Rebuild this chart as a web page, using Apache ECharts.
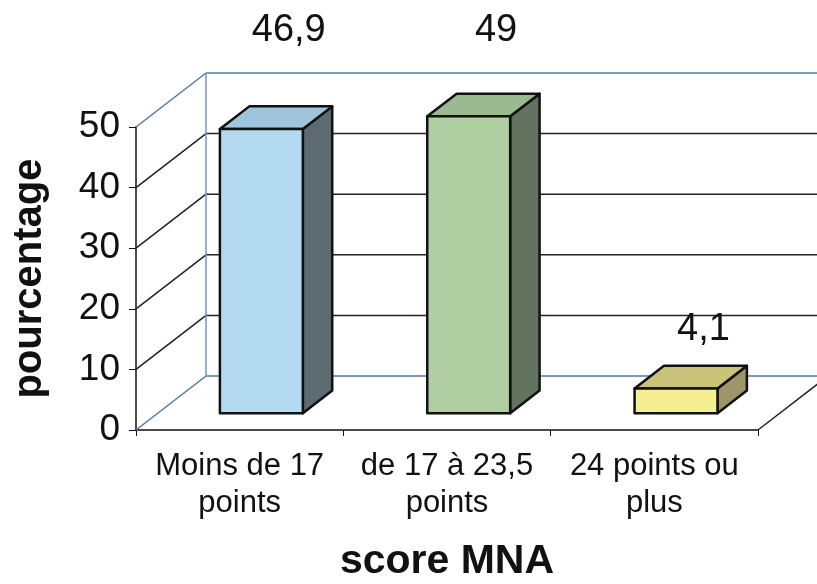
<!DOCTYPE html>
<html>
<head>
<meta charset="utf-8">
<script src="https://cdn.jsdelivr.net/npm/echarts@6/dist/echarts.min.js"></script>
<style>
  html, body { margin: 0; padding: 0; background: #fff; }
  #chart { width: 817px; height: 584px; }
</style>
</head>
<body>
<div id="chart"></div>
<script>
// data
const categories = ['Moins de 17\npoints', 'de 17 à 23,5\npoints', '24 points ou\nplus'];
const values = [46.9, 49, 4.1];
const yTicks = [0, 10, 20, 30, 40, 50];

// colours of the three boxes
const frontColors = ['#b4daf2', '#b1cea2', '#f5ee92'];
const topColors = ['#9ec5db', '#9cba8f', '#cbc27a'];
const sideColors = ['#5d6b70', '#62735f', '#9e9668'];

const FONT = '"Liberation Sans", Arial, sans-serif';
const DX = 70, DY = -54;      // depth of the fake 3d box
const F0 = 0.31, F1 = 0.73;   // where the bars sit in depth
const BAR_W = 0.4;            // bar width as share of the category band
const WALL_BLUE = '#4f79a5';

const chart = echarts.init(document.getElementById('chart'));

// back wall, side wall and floor, drawn from the y ticks
function renderWalls(params, api) {
  const cs = params.coordSys;
  const x0 = cs.x, x1 = cs.x + cs.width;
  const children = [];
  yTicks.forEach((v, i) => {
    const y = api.coord([0, v])[1];
    const edge = i === 0 || i === yTicks.length - 1;
    const stroke = edge ? WALL_BLUE : '#222';
    children.push({
      type: 'line',
      shape: { x1: x0 + DX, y1: y + DY, x2: x1 + DX, y2: y + DY },
      style: { stroke: stroke, lineWidth: 1.5 }
    });
    children.push({
      type: 'line',
      shape: { x1: x0, y1: y, x2: x0 + DX, y2: y + DY },
      style: { stroke: stroke, lineWidth: 1.5 }
    });
  });
  const yb = api.coord([0, yTicks[0]])[1];
  const yt = api.coord([0, yTicks[yTicks.length - 1]])[1];
  children.push({
    type: 'line',
    shape: { x1: x0 + DX, y1: yb + DY, x2: x0 + DX, y2: yt + DY },
    style: { stroke: '#7a96b4', lineWidth: 1.5 }
  });
  children.push({
    type: 'line',
    shape: { x1: x1, y1: yb, x2: x1 + DX, y2: yb + DY },
    style: { stroke: '#222', lineWidth: 1.5 }
  });
  return { type: 'group', children: children };
}

// one box per category: front face, top and right side
function renderBar(params, api) {
  const cs = params.coordSys;
  const idx = api.value(0);
  const v = api.value(1);
  const base = api.coord([idx, 0]);
  const top = api.coord([idx, v]);
  const w = api.size([1, 0])[0] * BAR_W;
  const ox0 = F0 * DX, oy0 = F0 * DY;
  const dx = (F1 - F0) * DX, dy = (F1 - F0) * DY;
  const L = base[0] - w / 2 + ox0, R = L + w;
  const B = base[1] + oy0, T = top[1] + oy0;
  const stroke = { stroke: '#111', lineWidth: 2.5, lineJoin: 'round' };

  // label sits above the box, or in the row above the chart if it would hit the top
  let ly = T + dy - 36;
  if (ly < cs.y + DY + 10) ly = cs.y + DY - 42;
  const label = String(v).replace('.', ',');

  return {
    type: 'group',
    children: [
      {
        type: 'polygon',
        shape: { points: [[R, T], [R + dx, T + dy], [R + dx, B + dy], [R, B]] },
        style: Object.assign({ fill: sideColors[idx] }, stroke)
      },
      {
        type: 'polygon',
        shape: { points: [[L, T], [R, T], [R + dx, T + dy], [L + dx, T + dy]] },
        style: Object.assign({ fill: topColors[idx] }, stroke)
      },
      {
        type: 'rect',
        shape: { x: L, y: T, width: w, height: B - T },
        style: Object.assign({ fill: frontColors[idx] }, stroke)
      },
      {
        type: 'text',
        x: base[0] + F1 * DX - 2,
        y: ly,
        style: {
          text: label,
          fill: '#111',
          font: '38px ' + FONT,
          align: 'center',
          verticalAlign: 'middle'
        }
      }
    ]
  };
}

const option = {
  animation: false,
  backgroundColor: '#fff',
  grid: { left: 136, right: 59, top: 127, bottom: 154, outerBoundsMode: 'none', containLabel: false },
  xAxis: {
    type: 'category',
    data: categories,
    boundaryGap: true,
    axisLine: { lineStyle: { color: '#111', width: 1.5 } },
    axisTick: { show: true, length: 6, lineStyle: { color: '#111' } },
    axisLabel: { interval: 0, fontSize: 31, color: '#111', lineHeight: 37, margin: 18, fontFamily: FONT },
    name: 'score MNA',
    nameLocation: 'middle',
    nameGap: 111,
    nameTextStyle: { fontSize: 41, fontWeight: 'bold', color: '#111', fontFamily: FONT }
  },
  yAxis: {
    type: 'value',
    min: 0,
    max: 50,
    interval: 10,
    axisLine: { show: true, lineStyle: { color: '#111', width: 1.5 } },
    axisTick: { show: true, length: 7, lineStyle: { color: '#111' } },
    splitLine: { show: false },
    axisLabel: { fontSize: 37, color: '#111', margin: 16, fontFamily: FONT },
    name: 'pourcentage',
    nameLocation: 'middle',
    nameRotate: 90,
    nameGap: 86,
    nameTextStyle: { fontSize: 40, fontWeight: 'bold', color: '#111', fontFamily: FONT }
  },
  series: [
    {
      type: 'custom',
      z: 1,
      silent: true,
      data: [[0, 0]],
      renderItem: renderWalls
    },
    {
      type: 'custom',
      z: 3,
      data: values.map((v, i) => [i, v]),
      renderItem: renderBar
    }
  ]
};

chart.setOption(option);
</script>
</body>
</html>
